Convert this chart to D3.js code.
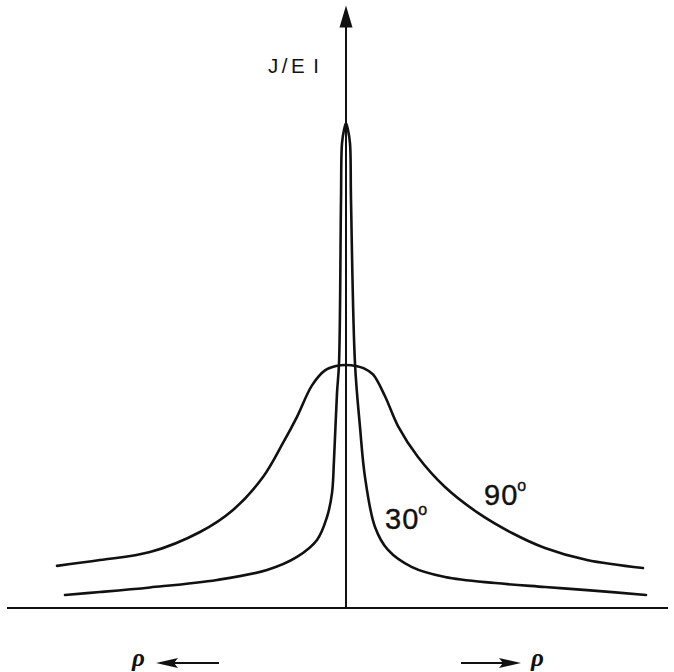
<!DOCTYPE html>
<html>
<head>
<meta charset="utf-8">
<script src="https://cdn.jsdelivr.net/npm/d3@7"></script>
<style>
  html, body { margin: 0; padding: 0; background: #fff; }
  svg { display: block; }
</style>
</head>
<body>
<script>
// Distance from the centre (rho) and normalised current J/EI for two angles
const rho90 = [-2.89, -2.46, -1.96, -1.46, -1.13, -0.83, -0.63, -0.49, -0.34, -0.21, -0.1, 0, 0.1, 0.18, 0.27, 0.39, 0.52, 0.72, 0.99, 1.32, 1.66, 1.99, 2.41, 2.97];
const j90   = [0.174, 0.198, 0.231, 0.314, 0.405, 0.541, 0.682, 0.790, 0.920, 0.982, 1.000, 1.004, 1.000, 0.990, 0.965, 0.875, 0.752, 0.624, 0.500, 0.393, 0.310, 0.248, 0.198, 0.165];

const rho30 = [-2.81, -2.46, -1.96, -1.29, -0.79, -0.49, -0.29, -0.19, -0.14, -0.12, -0.09, -0.07, -0.05, -0.04, -0.02, 0, 0.02, 0.04, 0.05, 0.09, 0.14, 0.19, 0.29, 0.42, 0.66, 0.99, 1.49, 1.99, 2.41, 3.00];
const j30   = [0.054, 0.066, 0.085, 0.116, 0.157, 0.211, 0.281, 0.376, 0.475, 0.612, 0.888, 1.010, 1.686, 1.920, 1.975, 2.004, 1.975, 1.920, 1.686, 1.010, 0.748, 0.541, 0.335, 0.240, 0.169, 0.128, 0.103, 0.087, 0.074, 0.054];

const curveLabels = ["30", "90"];
const axisLabel = ["J/E", "I"];
const rhoLabel = "\u03C1";

const W = 674, H = 672;
const svg = d3.select("body").append("svg").attr("width", W).attr("height", H);

const x = d3.scaleLinear().domain([-3.39, 3.22]).range([7, 668]);
const y = d3.scaleLinear().domain([0, 2.5]).range([608, 3]);

const ink = "#111";

// baseline
svg.append("line")
  .attr("x1", x(-3.39)).attr("x2", x(3.22))
  .attr("y1", y(0)).attr("y2", y(0))
  .attr("stroke", ink).attr("stroke-width", 2);

// vertical axis with arrowhead
const tipY = y(2.49);
svg.append("line")
  .attr("x1", x(0)).attr("x2", x(0))
  .attr("y1", y(0)).attr("y2", tipY + 18)
  .attr("stroke", ink).attr("stroke-width", 2);
svg.append("path")
  .attr("d", `M${x(0)},${tipY} L${x(0) - 6.5},${tipY + 22} L${x(0) + 6.5},${tipY + 22} Z`)
  .attr("fill", ink);

const yl = svg.append("text")
  .attr("x", 268).attr("y", 73)
  .attr("font-family", "Liberation Sans, Arial, sans-serif")
  .attr("font-size", 20.5)
  .attr("letter-spacing", 3.5)
  .attr("fill", ink)
  .text(axisLabel[0]);
yl.append("tspan").attr("dx", 5).text(axisLabel[1]);

// curves
const line = d3.line()
  .x(d => x(d[0]))
  .y(d => y(d[1]))
  .curve(d3.curveCatmullRom.alpha(0.5));

const series = [
  d3.zip(rho90, j90),
  d3.zip(rho30, j30)
];
svg.selectAll("path.curve")
  .data(series)
  .join("path")
  .attr("class", "curve")
  .attr("d", line)
  .attr("fill", "none")
  .attr("stroke", ink)
  .attr("stroke-width", 2.6)
  .attr("stroke-linejoin", "round")
  .attr("stroke-linecap", "round");

// angle labels
const labelPos = [[0.39, 0.325], [1.38, 0.425]];
curveLabels.forEach((t, i) => {
  const tx = svg.append("text")
    .attr("x", x(labelPos[i][0])).attr("y", y(labelPos[i][1]))
    .attr("font-family", "Liberation Sans, Arial, sans-serif")
    .attr("font-size", 29)
    .attr("letter-spacing", 1)
    .attr("fill", ink)
    .attr("stroke", ink)
    .attr("stroke-width", 0.4)
    .text(t);
  tx.append("tspan")
    .attr("font-size", 16)
    .attr("dy", -14)
    .attr("dx", -1)
    .text("o");
});

// rho direction arrows
const arrowY = 663;
function arrow(x1, x2) {
  const dir = x2 > x1 ? -1 : 1;
  svg.append("line")
    .attr("x1", x1).attr("x2", x2 + dir * 16)
    .attr("y1", arrowY).attr("y2", arrowY)
    .attr("stroke", ink).attr("stroke-width", 2);
  svg.append("path")
    .attr("d", `M${x2},${arrowY} L${x2 + dir * 22},${arrowY - 5} L${x2 + dir * 18},${arrowY} L${x2 + dir * 22},${arrowY + 5} Z`)
    .attr("fill", ink);
}
arrow(219, 156);
arrow(461, 521);

svg.selectAll("text.rho")
  .data([132, 531])
  .join("text")
  .attr("class", "rho")
  .attr("x", d => d).attr("y", 666)
  .attr("font-family", "Liberation Serif, serif")
  .attr("font-style", "italic")
  .attr("font-weight", "bold")
  .attr("font-size", 25)
  .attr("fill", ink)
  .text(rhoLabel);
</script>
</body>
</html>
